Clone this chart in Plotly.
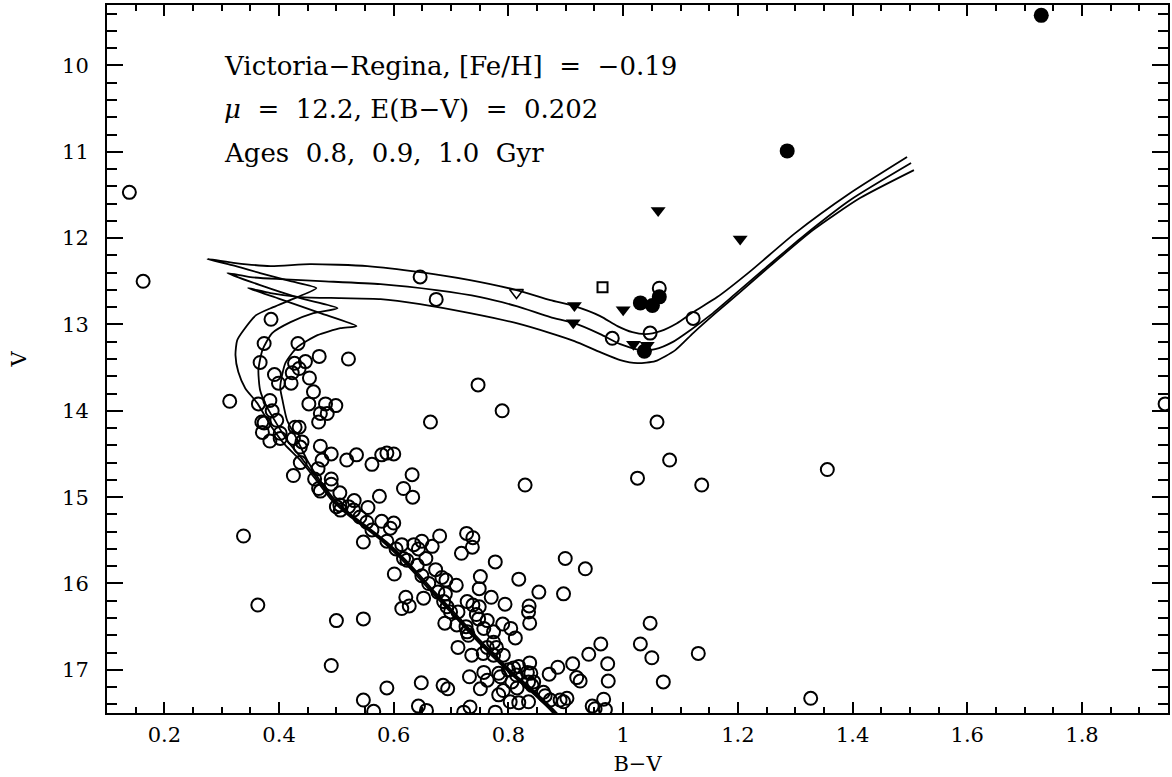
import plotly.graph_objects as go

# ---------------- data ----------------
# open circles: cluster field stars
open_bv = [0.139,0.163,1.945,0.646,0.674,0.386,0.374,0.433,0.367,0.470,0.521,0.427,0.446,0.435,0.392,0.423,0.453,
           1.063,1.122,0.981,1.047,1.059,0.314,0.364,0.384,0.388,0.370,0.374,0.396,0.371,0.384,0.402,0.402,0.428,
           0.435,0.425,0.440,0.437,0.399,0.421,0.460,0.452,0.481,0.499,0.472,0.484,0.469,0.747,0.789,0.664,0.472,
           0.491,0.518,0.535,0.562,0.579,0.588,0.600,0.475,0.437,0.468,0.425,0.632,0.462,0.491,0.491,0.469,0.472,
           0.506,0.617,0.633,0.575,0.531,0.500,0.506,0.507,0.521,0.530,0.555,0.541,0.553,0.579,0.600,0.594,0.562,
           0.338,0.680,0.727,0.738,0.547,0.588,0.614,0.604,0.635,0.649,0.643,0.667,0.718,0.737,0.617,0.623,0.641,
           0.656,0.777,0.601,0.649,0.673,0.661,0.684,0.691,0.709,0.751,0.749,0.677,0.690,0.770,0.621,0.614,0.627,
           0.652,0.687,0.693,0.699,0.712,0.728,0.738,0.749,0.744,0.748,0.763,0.689,0.710,0.726,0.728,0.730,0.757,
           0.774,0.774,0.763,0.712,0.736,0.756,0.774,0.363,0.500,0.547,0.491,0.588,0.648,0.686,0.694,0.732,0.751,
           0.757,0.763,0.783,0.783,0.547,0.565,0.643,0.657,0.722,0.733,0.777,1.081,1.025,1.137,0.829,1.356,0.899,
           0.934,0.818,0.853,0.896,0.794,0.836,0.835,0.837,0.790,0.804,0.812,0.779,0.791,1.047,1.030,1.050,1.131,
           0.961,0.940,0.912,0.973,0.837,0.818,0.833,0.786,0.800,0.809,0.814,0.839,0.886,0.871,0.919,0.925,0.974,
           1.070,0.791,0.806,0.815,0.835,0.841,0.844,0.861,0.864,0.873,0.890,0.902,0.896,0.835,0.803,0.818,0.946,
           0.951,0.966,0.969,1.327]
open_v = [11.47,12.50,13.92,12.45,12.71,12.94,13.22,13.22,13.44,13.37,13.40,13.45,13.43,13.51,13.58,13.56,13.62,
          12.58,12.93,13.16,13.10,14.13,13.89,13.92,13.88,14.00,14.13,14.14,14.11,14.25,14.35,14.26,14.32,14.19,
          14.19,14.32,14.36,14.42,13.68,13.68,13.78,13.92,13.92,13.94,14.03,14.03,14.13,13.70,14.00,14.13,14.41,
          14.50,14.57,14.51,14.62,14.51,14.49,14.50,14.57,14.60,14.67,14.75,14.74,14.79,14.79,14.85,14.90,14.93,
          14.95,14.90,15.00,14.99,15.04,15.11,15.09,15.15,15.11,15.15,15.12,15.23,15.29,15.28,15.30,15.36,15.38,
          15.45,15.45,15.42,15.47,15.52,15.51,15.55,15.60,15.55,15.51,15.60,15.57,15.65,15.58,15.71,15.73,15.79,
          15.71,15.75,15.89,15.91,15.84,16.00,15.93,15.96,16.02,15.92,16.06,16.10,16.12,16.16,16.16,16.29,16.26,
          16.17,16.21,16.27,16.33,16.33,16.21,16.25,16.27,16.36,16.41,16.43,16.46,16.48,16.50,16.56,16.60,16.52,
          16.56,16.68,16.74,16.74,16.83,16.81,16.83,16.25,16.43,16.41,16.95,17.21,17.15,17.18,17.22,17.08,17.22,
          17.03,17.12,17.04,17.29,17.35,17.48,17.42,17.47,17.49,17.43,17.49,14.57,14.78,14.86,14.86,14.68,15.71,
          15.83,15.95,16.10,16.12,16.24,16.26,16.33,16.46,16.47,16.52,16.63,16.74,16.83,16.46,16.70,16.86,16.81,
          16.70,16.82,16.93,16.93,16.92,16.96,17.03,17.08,17.00,16.98,17.06,17.04,16.97,17.05,17.09,17.13,17.13,
          17.14,17.24,17.14,17.21,17.14,17.18,17.14,17.26,17.30,17.35,17.35,17.33,17.37,17.37,17.37,17.38,17.42,
          17.45,17.34,17.46,17.33]

# filled circles
filled_bv = [1.729, 1.286, 1.030, 1.051, 1.063, 1.037]
filled_v = [9.42, 10.99, 12.75, 12.78, 12.68, 13.31]

# filled down-triangles
tri_bv = [1.061, 1.204, 0.915, 0.913, 1.000, 1.018, 1.042]
tri_v = [11.68, 12.01, 12.78, 12.98, 12.83, 13.23, 13.24]

# open square and open down-triangle
sq_bv = [0.964]
sq_v = [12.57]
otri_bv = [0.814]
otri_v = [12.63]

# Victoria-Regina isochrones (0.8, 0.9, 1.0 Gyr)
iso08_bv = [0.889,0.877,0.865,0.835,0.805,0.783,0.753,0.725,0.696,0.666,0.638,0.608,0.582,0.551,0.521,0.492,0.465,
            0.437,0.411,0.385,0.362,0.341,0.329,0.324,0.327,0.338,0.360,0.390,0.432,0.465,
            0.420,0.367,0.318,0.275,
            0.324,0.385,0.454,0.554,0.646,0.733,0.814,0.873,0.915,0.960,0.990,1.016,1.039,1.065,1.094,1.122,
            1.164,1.222,1.300,1.396,1.495]
iso08_v = [17.585,17.492,17.411,17.225,17.052,16.913,16.716,16.519,16.310,16.101,15.893,15.684,15.522,15.360,15.209,15.036,14.804,
           14.572,14.398,14.166,13.911,13.738,13.552,13.355,13.182,13.066,12.892,12.799,12.683,12.579,
           12.498,12.405,12.313,12.243,
           12.289,12.324,12.301,12.324,12.394,12.486,12.602,12.718,12.788,12.903,13.019,13.089,13.112,13.077,12.985,12.857,
           12.683,12.382,11.942,11.478,11.061]

iso09_bv = [0.892,0.880,0.868,0.838,0.808,0.786,0.756,0.728,0.699,0.669,0.641,0.611,0.585,0.554,0.524,0.495,0.468,0.442,
            0.414,0.379,0.367,0.364,0.371,0.388,0.420,0.460,0.502,
            0.437,0.367,0.310,
            0.350,0.402,0.472,0.577,0.674,0.751,0.814,0.873,0.915,0.960,0.995,1.030,1.056,1.086,1.117,1.152,
            1.195,1.248,1.312,1.396,1.502]
iso09_v = [17.585,17.492,17.411,17.225,17.052,16.913,16.716,16.519,16.310,16.101,15.893,15.684,15.522,15.360,15.209,15.036,14.804,14.572,
           14.340,13.958,13.761,13.529,13.297,13.100,12.973,12.869,12.811,
           12.695,12.544,12.405,
           12.452,12.475,12.498,12.533,12.602,12.683,12.788,12.915,12.985,13.112,13.228,13.297,13.286,13.205,13.066,12.892,
           12.649,12.347,11.988,11.559,11.131]

iso10_bv = [0.895,0.883,0.871,0.841,0.811,0.789,0.759,0.731,0.702,0.672,0.644,0.614,0.588,0.557,0.527,0.498,0.471,0.449,
            0.432,0.414,0.406,0.402,0.411,0.432,0.467,0.507,0.535,
            0.472,0.402,0.346,
            0.385,0.437,0.507,0.577,0.646,0.733,0.814,0.873,0.915,0.960,0.995,1.025,1.056,1.091,1.122,1.161,
            1.204,1.256,1.331,1.413,1.507]
iso10_v = [17.585,17.492,17.411,17.225,17.052,16.913,16.716,16.519,16.310,16.101,15.893,15.684,15.522,15.360,15.209,15.036,14.804,14.572,
           14.340,14.109,13.877,13.726,13.448,13.263,13.124,13.043,13.019,
           12.869,12.706,12.579,
           12.637,12.683,12.695,12.706,12.764,12.869,12.985,13.100,13.193,13.321,13.413,13.448,13.425,13.297,13.100,12.869,
           12.625,12.324,11.907,11.536,11.212]

label_lines = ["Victoria\u2212Regina, [Fe/H]\u00a0\u00a0=\u00a0\u00a0\u22120.19",
               "<i>\u03bc</i>\u00a0\u00a0=\u00a0\u00a012.2, E(B\u2212V)\u00a0\u00a0=\u00a0\u00a00.202",
               "Ages\u00a0 0.8,\u00a0 0.9,\u00a0 1.0\u00a0 Gyr"]

FONT = "DejaVu Serif"

fig = go.Figure()

for bx, vy in [(iso08_bv, iso08_v), (iso09_bv, iso09_v), (iso10_bv, iso10_v)]:
    fig.add_trace(go.Scatter(x=bx, y=vy, mode="lines",
                             line=dict(color="black", width=1.8, shape="spline", smoothing=0.6),
                             hoverinfo="skip", showlegend=False))

fig.add_trace(go.Scatter(x=open_bv, y=open_v, mode="markers",
                         marker=dict(symbol="circle-open", size=13, color="black", line=dict(width=2)),
                         showlegend=False))
fig.add_trace(go.Scatter(x=filled_bv, y=filled_v, mode="markers",
                         marker=dict(symbol="circle", size=15, color="black"), showlegend=False))
fig.add_trace(go.Scatter(x=tri_bv, y=tri_v, mode="markers",
                         marker=dict(symbol="triangle-down", size=13, color="black"), showlegend=False))
fig.add_trace(go.Scatter(x=sq_bv, y=sq_v, mode="markers",
                         marker=dict(symbol="square-open", size=10, color="black", line=dict(width=2)),
                         showlegend=False))
fig.add_trace(go.Scatter(x=otri_bv, y=otri_v, mode="markers",
                         marker=dict(symbol="triangle-down-open", size=12, color="black", line=dict(width=1.5)),
                         showlegend=False))

for i, t in enumerate(label_lines):
    fig.add_annotation(text=t, xref="paper", yref="paper", x=0.108, y=0.914 - i * 0.0615,
                       xanchor="left", yanchor="middle", showarrow=False,
                       font=dict(family=FONT, size=26, color="black"))

axis_common = dict(showline=True, linecolor="black", linewidth=2, mirror="allticks",
                   ticks="inside", tickcolor="black", tickwidth=2,
                   showgrid=False, zeroline=False,
                   tickfont=dict(family=FONT, size=21, color="black"))

fig.update_xaxes(range=[0.1, 1.95], tick0=0, dtick=0.2, ticklen=11,
                 minor=dict(dtick=0.05, ticks="inside", ticklen=6, tickwidth=2, tickcolor="black"),
                 title=dict(text="B\u2212V", font=dict(family=FONT, size=21, color="black"), standoff=10),
                 ticklabelstandoff=2,
                 **axis_common)
fig.update_yaxes(range=[17.5, 9.3], tick0=0, dtick=1, ticklen=16,
                 minor=dict(dtick=0.2, ticks="inside", ticklen=10, tickwidth=2, tickcolor="black"),
                 title=dict(text="V", font=dict(family=FONT, size=21, color="black"), standoff=30),
                 ticklabelstandoff=12,
                 **axis_common)

fig.update_layout(width=1172, height=777, margin=dict(l=107, r=4, t=5, b=64, autoexpand=False),
                  paper_bgcolor="white", plot_bgcolor="white", showlegend=False)

fig.write_html("out.html")
